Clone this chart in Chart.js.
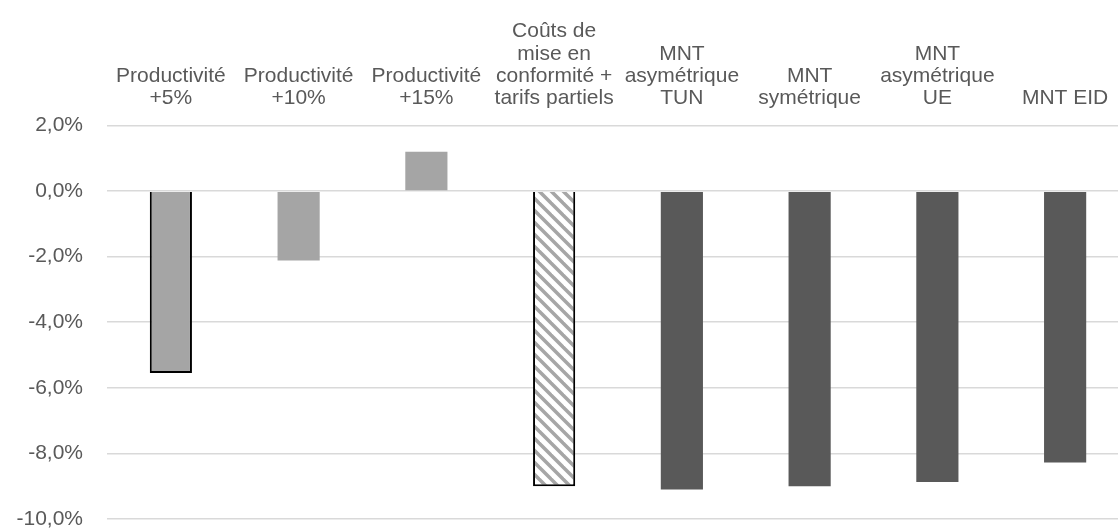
<!DOCTYPE html>
<html lang="fr">
<head>
<meta charset="utf-8">
<title>Variation par scénario</title>
<script src="https://cdn.jsdelivr.net/npm/chart.js@4.4.1/dist/chart.umd.min.js"></script>
<style>
  html, body { margin: 0; padding: 0; background: #ffffff; overflow: hidden; }
  #chart { display: block; }
</style>
</head>
<body>
<canvas id="chart" width="1130" height="529" style="width:1130px;height:529px"></canvas>
<script>
// Scenario labels (multi-line, drawn above the plot)
const categories = [
  ["Productivité", "+5%"],
  ["Productivité", "+10%"],
  ["Productivité", "+15%"],
  ["Coûts de", "mise en", "conformité +", "tarifs partiels"],
  ["MNT", "asymétrique", "TUN"],
  ["MNT", "symétrique"],
  ["MNT", "asymétrique", "UE"],
  ["MNT EID"]
];

// Variation in percent for each scenario
const values = [-5.55, -2.12, 1.2, -9.0, -9.1, -9.0, -8.87, -8.28];

// Value axis ticks
const yMin = -10;
const yMax = 2;
const yStep = 2;

// Diagonal hatch fill for the compliance-cost scenario
function makeHatch() {
  const size = 12;
  const c = document.createElement('canvas');
  c.width = size;
  c.height = size;
  const g = c.getContext('2d');
  g.fillStyle = '#ffffff';
  g.fillRect(0, 0, size, size);
  g.strokeStyle = '#a6a6a6';
  g.lineWidth = 3.5;
  for (let k = -1; k <= 1; k++) {
    g.beginPath();
    g.moveTo(k * size - 2, -2);
    g.lineTo(k * size + size + 2, size + 2);
    g.stroke();
  }
  return g.createPattern(c, 'repeat');
}

const light = '#a5a5a5';
const dark = '#595959';
const hatch = makeHatch();

const fills = [light, light, light, hatch, dark, dark, dark, dark];
const borders = ['#000000', 'rgba(0,0,0,0)', 'rgba(0,0,0,0)', '#000000', 'rgba(0,0,0,0)', 'rgba(0,0,0,0)', 'rgba(0,0,0,0)', 'rgba(0,0,0,0)'];
const borderWidths = [2, 0, 0, 2, 0, 0, 0, 0];

const textColor = '#595959';
const fontFamily = '"Liberation Sans", Arial, sans-serif';

new Chart(document.getElementById('chart'), {
  type: 'bar',
  data: {
    labels: categories,
    datasets: [{
      data: values,
      backgroundColor: fills,
      borderColor: borders,
      borderWidth: borderWidths,
      borderSkipped: 'start',
      barPercentage: 0.33,
      categoryPercentage: 1.0
    }]
  },
  options: {
    responsive: false,
    animation: false,
    layout: { autoPadding: false, padding: { top: 0, right: 1, bottom: 10, left: 0 } },
    plugins: {
      legend: { display: false },
      tooltip: { enabled: false }
    },
    scales: {
      x: {
        position: 'top',
        grid: { display: false, drawTicks: false },
        border: { display: false },
        ticks: {
          color: textColor,
          font: { family: fontFamily, size: 21, lineHeight: 1.06 },
          padding: 16,
          maxRotation: 0,
          autoSkip: false
        },
        afterFit: (s) => { s.height = 125.5; }
      },
      y: {
        min: yMin,
        max: yMax,
        grid: { color: '#d9d9d9', lineWidth: 1.6, drawTicks: false },
        border: { display: false },
        ticks: {
          stepSize: yStep,
          color: textColor,
          font: { family: fontFamily, size: 21 },
          padding: 24,
          callback: (v) => v.toFixed(1).replace('.', ',') + '%'
        },
        afterFit: (s) => {
          // fixed gutter for the percent labels; no extra vertical reserve
          s.width = 107;
          s.paddingTop = 0;
          s.paddingBottom = 0;
        }
      }
    }
  }
});
</script>
</body>
</html>
